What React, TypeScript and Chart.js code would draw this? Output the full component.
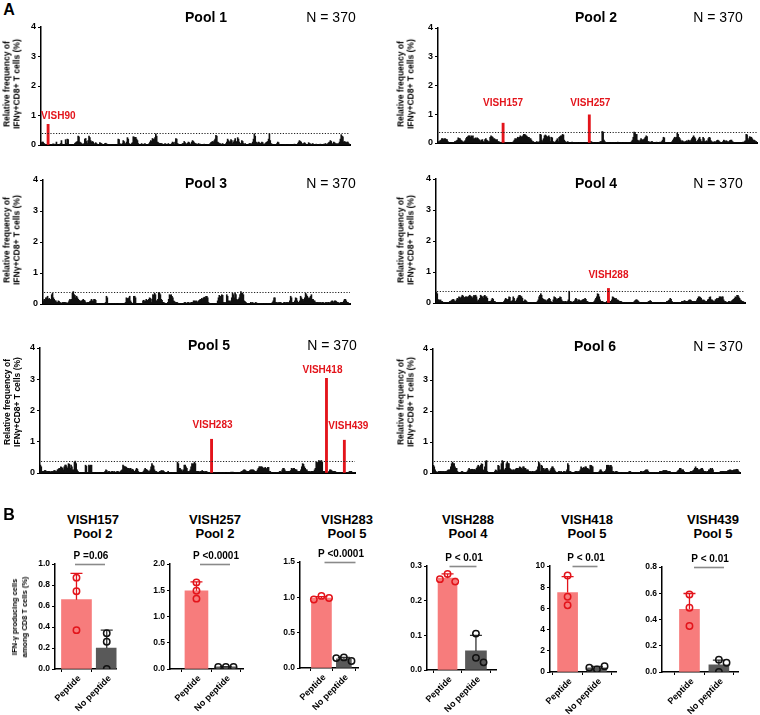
import React, { useEffect, useRef } from "react";
import { Chart, registerables } from "chart.js";

Chart.register(...registerables);

const FONT = "'Liberation Sans', Arial, Helvetica, sans-serif";
const RED = "#e3141b";
const PINK = "#f77c7c";
const DARK = "#595959";
const THRESHOLD = 0.4;

// ---- Panel A: per-peptide responses (370 peptides per pool) ----
const POOL1: number[] = [
  0.08,0.1,0.1,0.06,0.03,0.02,0,0,0.7,0.02,
  0,0,0,0.02,0.04,0,0.03,0,0.1,0.02,
  0,0,0.02,0.05,0.15,0.03,0,0,0.02,0.18,
  0.05,0.2,0.18,0.02,0,0.02,0,0,0,0.02,
  0.05,0.08,0.1,0.12,0.3,0.28,0.1,0.08,0.05,0.03,
  0.02,0.05,0.2,0.22,0.12,0.05,0.15,0.3,0.25,0.15,
  0.1,0.12,0.1,0.05,0.03,0.08,0.05,0.02,0,0.02,
  0.08,0.06,0.05,0.02,0,0,0.05,0.06,0.04,0,
  0,0,0.02,0,0,0,0,0.02,0,0,
  0,0.02,0.2,0.18,0.05,0,0.02,0.05,0.15,0.12,
  0.02,0.05,0.1,0.25,0.2,0.05,0,0.02,0.05,0.08,
  0.28,0.27,0.25,0.26,0.2,0.15,0.05,0.02,0,0,
  0.05,0.02,0,0.03,0.05,0.02,0,0,0.02,0.05,
  0.1,0.15,0.12,0.22,0.2,0.18,0.25,0.38,0.3,0.1,
  0.08,0.05,0.06,0.05,0.05,0.03,0.02,0.02,0.05,0.03,
  0,0.02,0.05,0.02,0,0.02,0.05,0.1,0.08,0.02,
  0.1,0.22,0.2,0.05,0.03,0.02,0,0,0.02,0.05,
  0.05,0.12,0.08,0.04,0.03,0.06,0.1,0.08,0.04,0.02,
  0.1,0.15,0.12,0.08,0.05,0.05,0.02,0.02,0.05,0.03,
  0.03,0.02,0,0,0.02,0.03,0,0,0,0.02,
  0,0.02,0.05,0.08,0.1,0.12,0.1,0.15,0.2,0.33,
  0.3,0.1,0.08,0.05,0.05,0.02,0.03,0.05,0.02,0,
  0.02,0.05,0.1,0.2,0.15,0.1,0.12,0.18,0.15,0.05,
  0.1,0.15,0.22,0.1,0.12,0.25,0.2,0.1,0.05,0.05,
  0.15,0.12,0.05,0.02,0.05,0.02,0,0,0.02,0.05,
  0.05,0.02,0.05,0.1,0.2,0.38,0.3,0.1,0.08,0.05,
  0.1,0.08,0.05,0.06,0.1,0.08,0.03,0.02,0.05,0.08,
  0.1,0.12,0.2,0.38,0.15,0.05,0.03,0.02,0,0.02,
  0,0.02,0.05,0.1,0.08,0.02,0,0,0,0,
  0,0,0.02,0,0,0,0,0.02,0,0,
  0,0,0.02,0.03,0,0,0.02,0.05,0.1,0.15,
  0.12,0.1,0.05,0.03,0.05,0.08,0.05,0.02,0,0.02,
  0.08,0.05,0.04,0.02,0.03,0.05,0.02,0,0.02,0.03,
  0.02,0,0,0.02,0.03,0.02,0,0.02,0.03,0.02,
  0.05,0.03,0.02,0.05,0.08,0.1,0.15,0.12,0.05,0.03,
  0.1,0.08,0.05,0.03,0.05,0.02,0.05,0.1,0.2,0.35,
  0.3,0.28,0.1,0.12,0.1,0.08,0.1,0.1,0.05,0.02,
];

const POOL2: number[] = [
  0.05,0.05,0.08,0.1,0.15,0.15,0.12,0.15,0.15,0.12,
  0.12,0.05,0.02,0,0,0,0.02,0,0.02,0.05,
  0.05,0.08,0.1,0.18,0.15,0.15,0.1,0.08,0.05,0.02,
  0.05,0.08,0.15,0.2,0.22,0.25,0.25,0.2,0.25,0.22,
  0.25,0.15,0.15,0.18,0.15,0.18,0.15,0.12,0.1,0.05,
  0.1,0.12,0.05,0.03,0.12,0.15,0.1,0.08,0.05,0.05,
  0.2,0.25,0.22,0.2,0.15,0.15,0.12,0.1,0.12,0.05,
  0.05,0.03,0.02,0.02,0.03,0.69,0.03,0.02,0,0,
  0,0,0.02,0,0,0,0.02,0.05,0.1,0.15,
  0.12,0.15,0.2,0.18,0.2,0.25,0.22,0.2,0.25,0.3,
  0.3,0.28,0.25,0.22,0.2,0.2,0.15,0.15,0.1,0.05,
  0.05,0.02,0,0.02,0.05,0.03,0.02,0.05,0.3,0.28,
  0.1,0.05,0.15,0.25,0.28,0.25,0.22,0.2,0.25,0.2,
  0.05,0.2,0.18,0.05,0.03,0.02,0.05,0.1,0.15,0.05,
  0.2,0.22,0.25,0.25,0.3,0.28,0.1,0.05,0.03,0.02,
  0.05,0.02,0.02,0,0.02,0.03,0.02,0,0.02,0.02,
  0,0.02,0,0,0.02,0,0,0.02,0,0,
  0,0.02,0,0.02,0,0.98,0.05,0.05,0.03,0.02,
  0.02,0,0,0.02,0,0,0.02,0.03,0.05,0.05,
  0.4,0.38,0.1,0.05,0.02,0.02,0,0.02,0,0,
  0,0.02,0,0,0.02,0,0,0.02,0.03,0.02,
  0,0,0.02,0,0,0,0.02,0,0,0.02,
  0,0.02,0,0,0.05,0.1,0.2,0.38,0.35,0.3,
  0.3,0.1,0.08,0.05,0.1,0.15,0.12,0.1,0.12,0.15,
  0.2,0.25,0.22,0.05,0.05,0.03,0.02,0.05,0.05,0.02,
  0.02,0,0.02,0.03,0,0,0.02,0.03,0.02,0.05,
  0.1,0.2,0.18,0.02,0,0.02,0,0,0.02,0,
  0.02,0.05,0.1,0.15,0.2,0.18,0.2,0.35,0.3,0.2,
  0.15,0.1,0.05,0.08,0.05,0.02,0.05,0.05,0.08,0.05,
  0.1,0.08,0.05,0.1,0.15,0.2,0.25,0.2,0.15,0.05,
  0.05,0.1,0.15,0.2,0.12,0.05,0.05,0.2,0.15,0.05,
  0.05,0.08,0.05,0.15,0.2,0.18,0.08,0.05,0.03,0.02,
  0.05,0.03,0.05,0.08,0.1,0.08,0.05,0.02,0.02,0.02,
  0.05,0.1,0.08,0.05,0.08,0.05,0.03,0.05,0.08,0.1,
  0.1,0.05,0.03,0.02,0.02,0.02,0,0.02,0.02,0,
  0.02,0,0.02,0.03,0.02,0.05,0.08,0.3,0.28,0.15,
  0.1,0.22,0.2,0.2,0.15,0.1,0.1,0.08,0.05,0.05,
];

const POOL3: number[] = [
  0.1,0.15,0.12,0.2,0.2,0.25,0.15,0.18,0.12,0.15,
  0.3,0.35,0.2,0.15,0.1,0.1,0.05,0.05,0.1,0.08,
  0.05,0.02,0.03,0.05,0.05,0.05,0.03,0.05,0.03,0.02,
  0.05,0.1,0.15,0.12,0.15,0.35,0.4,0.3,0.28,0.2,
  0.25,0.2,0.15,0.12,0.1,0.08,0.1,0.12,0.15,0.12,
  0.1,0.05,0.03,0.05,0.05,0.05,0.08,0.1,0.15,0.1,
  0.1,0.15,0.15,0.12,0.02,0,0.02,0,0,0.02,
  0.02,0,0.02,0.02,0,0.05,0.25,0.2,0.02,0,
  0,0.02,0,0,0.02,0,0,0.02,0,0,
  0,0.02,0.02,0.02,0.02,0,0.02,0,0.02,0.05,
  0.2,0.18,0.15,0.2,0.25,0.1,0.05,0.02,0.02,0.25,
  0.25,0.2,0.02,0,0.02,0.02,0,0.02,0,0.02,
  0.1,0.12,0.08,0.1,0.15,0.12,0.1,0.15,0.2,0.18,
  0.05,0.15,0.3,0.28,0.35,0.3,0.1,0.1,0.15,0.37,
  0.35,0.3,0.15,0.12,0.05,0.05,0.03,0.02,0.02,0.02,
  0.05,0.15,0.3,0.28,0.3,0.25,0.2,0.1,0.08,0.05,
  0.05,0.05,0.03,0.02,0.02,0,0.02,0,0,0.02,
  0.05,0.05,0.03,0.02,0.05,0.05,0.03,0.02,0.05,0.05,
  0.05,0.1,0.1,0.08,0.1,0.08,0.05,0.1,0.12,0.15,
  0.15,0.18,0.15,0.2,0.22,0.2,0.25,0.25,0.2,0.05,
  0.02,0,0.02,0,0,0.02,0,0.02,0,0.02,
  0.1,0.2,0.28,0.25,0.1,0.3,0.28,0.05,0.05,0.02,
  0.05,0.3,0.25,0.1,0.1,0.05,0.1,0.2,0.35,0.3,
  0.2,0.35,0.3,0.15,0.12,0.15,0.2,0.3,0.4,0.35,
  0.35,0.3,0.1,0.08,0.05,0.02,0.02,0.02,0.02,0,
  0.05,0.03,0.05,0.03,0.02,0.03,0.05,0.03,0.02,0.02,
  0.02,0,0.02,0,0.02,0,0,0.02,0,0,
  0.02,0,0.02,0,0.02,0,0.05,0.1,0.2,0.2,
  0.05,0.05,0.03,0.05,0.02,0.05,0.05,0.03,0.02,0,
  0.05,0.05,0.03,0.05,0.05,0.03,0.05,0.1,0.25,0.2,
  0.05,0.05,0.05,0.1,0.2,0.18,0.1,0.05,0.05,0.1,
  0.25,0.2,0.15,0.1,0.15,0.2,0.35,0.3,0.25,0.2,
  0.15,0.2,0.25,0.3,0.15,0.15,0.1,0.1,0.05,0.05,
  0.05,0.05,0.03,0.05,0.05,0.03,0.05,0.05,0.03,0.02,
  0.05,0.05,0.03,0.05,0.05,0.03,0.05,0.08,0.1,0.08,
  0.05,0.1,0.1,0.08,0.05,0.05,0.03,0.02,0.05,0.05,
  0.05,0.05,0.1,0.15,0.15,0.1,0.05,0.05,0.02,0.02,
];

const POOL4: number[] = [
  0.35,0.3,0.1,0.1,0.08,0.1,0.05,0.05,0.02,0.02,
  0.02,0,0.02,0,0.02,0.02,0.05,0.05,0.08,0.1,
  0.12,0.1,0.05,0.05,0.1,0.15,0.12,0.2,0.18,0.15,
  0.2,0.25,0.22,0.15,0.18,0.2,0.2,0.18,0.2,0.22,
  0.25,0.22,0.2,0.15,0.2,0.25,0.22,0.25,0.2,0.05,
  0.1,0.08,0.15,0.25,0.22,0.2,0.15,0.22,0.25,0.2,
  0.2,0.15,0.05,0.03,0.05,0.05,0.1,0.15,0.12,0.05,
  0.05,0.02,0.02,0,0.02,0.02,0,0.02,0,0.02,
  0.02,0.05,0.1,0.15,0.12,0.1,0.12,0.2,0.18,0.05,
  0.05,0.08,0.2,0.15,0.05,0.05,0.1,0.15,0.2,0.25,
  0.25,0.22,0.2,0.15,0.05,0.05,0.1,0.08,0.05,0.02,
  0.02,0,0.02,0,0.02,0.02,0,0.02,0,0.02,
  0.02,0.05,0.1,0.2,0.25,0.3,0.25,0.15,0.12,0.1,
  0.1,0.08,0.05,0.1,0.12,0.15,0.12,0.05,0.02,0.02,
  0.1,0.2,0.18,0.15,0.1,0.12,0.15,0.15,0.2,0.18,
  0.1,0.05,0.05,0.03,0.05,0.05,0.02,0.05,0.1,0.38,
  0.05,0.05,0.02,0.02,0.05,0.05,0.1,0.15,0.12,0.05,
  0.1,0.1,0.08,0.05,0.08,0.1,0.12,0.1,0.15,0.12,
  0.05,0.05,0.02,0.02,0,0.02,0.02,0,0.02,0.05,
  0.1,0.15,0.2,0.3,0.28,0.2,0.1,0.05,0.05,0.05,
  0.02,0,0.02,0.02,0.05,0.05,0.47,0.05,0.05,0.05,
  0.1,0.2,0.18,0.15,0.12,0.15,0.1,0.1,0.08,0.05,
  0.05,0.05,0.03,0.02,0.02,0,0.02,0.02,0,0.02,
  0.02,0,0.02,0.02,0,0.02,0.02,0.05,0.08,0.1,
  0.1,0.08,0.05,0.02,0.02,0,0.02,0.02,0,0.02,
  0.02,0,0.02,0.02,0.05,0.05,0.08,0.05,0.02,0.02,
  0.02,0.02,0,0.02,0.02,0,0.02,0.02,0,0,
  0.02,0,0.02,0,0.02,0.02,0.05,0.05,0.08,0.1,
  0.15,0.12,0.05,0.02,0.02,0,0.02,0.02,0.02,0,
  0.02,0.02,0,0.02,0.05,0.05,0.05,0.08,0.06,0.05,
  0.05,0.05,0.08,0.1,0.1,0.08,0.05,0.05,0.05,0.05,
  0.05,0.05,0.1,0.15,0.2,0.2,0.18,0.15,0.1,0.08,
  0.1,0.08,0.05,0.05,0.05,0.1,0.12,0.18,0.2,0.1,
  0.1,0.08,0.05,0.05,0.1,0.12,0.15,0.1,0.15,0.2,
  0.2,0.18,0.2,0.2,0.1,0.05,0.05,0.03,0.02,0.02,
  0.05,0.05,0.03,0.05,0.08,0.1,0.12,0.15,0.2,0.18,
  0.25,0.25,0.2,0.15,0.1,0.08,0.05,0.05,0.03,0.02,
];

const POOL5: number[] = [
  0.25,0.2,0.05,0.05,0.05,0.08,0.08,0.05,0.05,0.05,
  0.05,0.05,0.03,0.05,0.05,0.05,0.08,0.08,0.05,0.05,
  0.1,0.12,0.15,0.12,0.2,0.18,0.15,0.1,0.2,0.25,
  0.25,0.2,0.15,0.3,0.28,0.15,0.25,0.2,0.1,0.1,
  0.35,0.38,0.3,0.1,0.05,0.02,0.02,0,0.02,0.02,
  0,0.02,0.02,0.25,0.22,0.02,0.02,0.25,0.22,0.25,
  0.25,0.02,0,0.02,0,0,0.02,0,0.02,0,
  0,0.02,0,0.02,0,0.02,0.05,0.1,0.08,0.02,
  0.05,0.05,0.03,0.02,0.05,0.05,0.03,0.05,0.02,0.02,
  0.05,0.05,0.03,0.02,0.05,0.08,0.1,0.25,0.22,0.2,
  0.2,0.18,0.15,0.15,0.15,0.12,0.15,0.1,0.12,0.1,
  0.05,0.05,0.1,0.15,0.12,0.05,0.02,0.02,0,0.02,
  0.02,0.05,0.1,0.15,0.12,0.1,0.08,0.05,0.05,0.1,
  0.2,0.3,0.25,0.22,0.1,0.05,0.05,0.03,0.02,0.02,
  0.05,0.05,0.08,0.06,0.08,0.05,0.02,0.02,0,0.02,
  0.05,0.02,0,0.02,0,0.02,0.02,0,0.02,0.02,
  0.02,0.35,0.3,0.15,0.15,0.1,0.1,0.05,0.1,0.25,
  0.25,0.2,0.15,0.05,0.05,0.05,0.1,0.2,0.3,0.28,
  0.3,0.35,0.3,0.05,0.05,0.05,0.05,0.03,0.05,0.05,
  0.08,0.05,0.05,0.03,0.05,0.05,0.03,0.02,0.02,0.02,
  0.02,1.08,0.02,0.02,0,0.02,0,0.02,0,0,
  0,0,0.02,0,0,0,0.02,0,0,0,
  0.02,0,0.02,0.02,0.03,0.02,0.03,0.02,0,0.02,
  0.02,0.02,0,0.02,0.02,0.02,0.05,0.05,0.08,0.1,
  0.1,0.08,0.05,0.05,0.05,0.05,0.08,0.1,0.1,0.1,
  0.1,0.08,0.05,0.05,0.05,0.1,0.15,0.2,0.2,0.2,
  0.2,0.18,0.15,0.15,0.18,0.15,0.12,0.18,0.18,0.05,
  0.05,0.02,0.02,0,0.02,0.02,0,0.02,0.02,0,
  0.02,0.05,0.05,0.03,0.1,0.15,0.15,0.1,0.05,0.05,
  0.05,0.05,0.03,0.05,0.08,0.15,0.12,0.15,0.15,0.12,
  0.1,0.1,0.05,0.05,0.05,0.05,0.1,0.2,0.3,0.28,
  0.2,0.15,0.1,0.1,0.05,0.05,0.05,0.03,0.05,0.05,
  0.05,0.05,0.1,0.15,0.35,0.3,0.35,0.4,0.38,0.38,
  0.4,0.35,0.05,0.05,0.05,0.02,3.03,0.02,0.02,0.05,
  0.1,0.1,0.08,0.05,0.05,0.05,0.05,0.03,0.02,0.02,
  0.02,0,0.02,0,0.02,0.02,0.02,1.05,0.02,0,
  0.02,0,0.02,0.05,0.05,0.05,0.03,0.02,0,0.02,
];

const POOL6: number[] = [
  0.25,0.2,0.1,0.05,0.02,0.02,0.05,0.05,0.05,0.05,
  0.05,0.05,0.05,0.05,0.03,0.05,0.05,0.08,0.1,0.1,
  0.1,0.2,0.3,0.35,0.3,0.3,0.2,0.15,0.15,0.05,
  0.02,0.02,0,0.02,0.05,0.05,0.02,0.02,0,0.02,
  0.02,0.05,0.1,0.15,0.12,0.1,0.12,0.12,0.1,0.12,
  0.1,0.1,0.15,0.2,0.25,0.2,0.2,0.25,0.3,0.28,
  0.1,0.05,0.2,0.38,0.4,0.05,0.02,0.02,0,0.02,
  0.02,0,0.02,0.02,0.05,0.1,0.08,0.05,0.25,0.22,
  0.1,0.1,0.3,0.4,0.38,0.1,0.1,0.15,0.3,0.35,
  0.3,0.3,0.15,0.12,0.1,0.08,0.1,0.1,0.08,0.12,
  0.15,0.15,0.1,0.15,0.2,0.18,0.15,0.12,0.2,0.2,
  0.15,0.15,0.1,0.1,0.1,0.05,0.05,0.05,0.03,0.05,
  0.05,0.03,0.05,0.05,0.08,0.1,0.2,0.35,0.3,0.05,
  0.25,0.22,0.15,0.15,0.1,0.12,0.15,0.15,0.1,0.05,
  0.05,0.1,0.15,0.2,0.2,0.15,0.1,0.05,0.02,0.02,
  0.02,0.05,0.05,0.03,0.05,0.02,0.02,0.05,0.05,0.02,
  0.05,0.1,0.3,0.25,0.05,0.05,0.03,0.02,0.02,0.02,
  0.02,0.05,0.05,0.05,0.03,0.05,0.05,0.1,0.2,0.15,
  0.15,0.18,0.15,0.2,0.2,0.15,0.15,0.12,0.1,0.25,
  0.25,0.22,0.2,0.02,0.02,0,0.02,0.02,0,0.02,
  0.05,0.1,0.1,0.05,0.02,0.02,0.05,0.05,0.1,0.25,
  0.25,0.25,0.2,0.25,0.25,0.2,0.05,0.05,0.03,0.02,
  0.05,0.05,0.03,0.02,0.02,0.02,0.02,0,0.02,0.02,
  0.02,0.02,0,0.02,0.02,0.02,0.05,0.05,0.03,0.02,
  0.02,0,0.02,0.02,0,0.02,0.02,0,0.02,0.02,
  0.05,0.05,0.03,0.05,0.05,0.08,0.1,0.1,0.1,0.05,
  0.02,0.02,0,0.02,0,0.02,0,0.02,0.02,0,
  0.02,0.02,0.02,0.05,0.05,0.05,0.05,0.08,0.08,0.08,
  0.08,0.08,0.05,0.05,0.05,0.05,0.02,0.02,0.02,0.02,
  0.02,0.02,0,0.02,0.05,0.08,0.1,0.15,0.15,0.1,
  0.1,0.1,0.05,0.02,0.02,0,0.02,0.02,0.02,0.02,
  0.05,0.05,0.05,0.08,0.1,0.15,0.2,0.15,0.15,0.1,
  0.1,0.1,0.12,0.15,0.15,0.1,0.05,0.05,0.05,0.03,
  0.05,0.05,0.1,0.1,0.15,0.12,0.15,0.1,0.02,0.02,
  0.02,0.02,0,0.02,0.02,0.02,0.05,0.05,0.05,0.05,
  0.05,0.05,0.05,0.05,0.05,0.08,0.08,0.1,0.1,0.08,
  0.08,0.08,0.1,0.1,0.1,0.12,0.12,0.1,0.05,0.02,
];

// Responding peptides (highlighted red), by position in the pool
const POOL1_HITS = [{ name: "VISH90", index: 8 }];
const POOL2_HITS = [{ name: "VISH157", index: 75 }, { name: "VISH257", index: 175 }];
const POOL3_HITS: { name: string; index: number }[] = [];
const POOL4_HITS = [{ name: "VISH288", index: 206 }];
const POOL5_HITS = [{ name: "VISH283", index: 201 }, { name: "VISH418", index: 336 }, { name: "VISH439", index: 357 }];
const POOL6_HITS: { name: string; index: number }[] = [];

const POOL_NAMES = ["Pool 1", "Pool 2", "Pool 3", "Pool 4", "Pool 5", "Pool 6"];
const POOL_N = "N = 370";

// where each red label sits: value on the y axis, alignment and nudge in px
const LABEL_PLACE: Record<string, { y: number; align: CanvasTextAlign; dx: number }> = {
  VISH90: { y: 0.99, align: "left", dx: -7 },
  VISH157: { y: 1.37, align: "center", dx: 0 },
  VISH257: { y: 1.37, align: "center", dx: 1 },
  VISH288: { y: 0.89, align: "center", dx: 0 },
  VISH283: { y: 1.53, align: "center", dx: 1 },
  VISH418: { y: 3.3, align: "center", dx: -4 },
  VISH439: { y: 1.5, align: "center", dx: 4 },
};

// ---- Panel B: validation of individual peptides ----
const B_PEPTIDES = ["VISH157", "VISH257", "VISH283", "VISH288", "VISH418", "VISH439"];
const B_POOLS = ["Pool 2", "Pool 2", "Pool 5", "Pool 4", "Pool 5", "Pool 5"];
const B_P_TEXT = ["P =0.06", "P <0.0001", "P <0.0001", "P < 0.01", "P < 0.01", "P < 0.01"];
const B_GROUPS = ["Peptide", "No peptide"];
const B_MEAN_PEPTIDE = [0.66, 1.49, 0.99, 0.265, 7.5, 0.478];
const B_SD_PEPTIDE = [0.25, 0.17, 0.02, 0.012, 1.5, 0.12];
const B_MEAN_NOPEP = [0.2, 0.04, 0.13, 0.055, 0.4, 0.054];
const B_SD_NOPEP = [0.17, 0.004, 0.02, 0.045, 0.12, 0.037];
const B_PTS_PEPTIDE = [
  [0.87, 0.74, 0.37],
  [1.65, 1.49, 1.34],
  [1.02, 0.99, 0.97],
  [0.277, 0.255, 0.262],
  [9.1, 7.1, 6.3],
  [0.59, 0.49, 0.35],
];
const B_PTS_NOPEP = [
  [0.34, 0.26, 0.0],
  [0.04, 0.04, 0.04],
  [0.15, 0.1, 0.14],
  [0.105, 0.035, 0.022],
  [0.25, 0.55, 0.4],
  [0.094, 0.07, 0.0],
];
const B_Y_MAX = [1.0, 2.0, 1.5, 0.3, 10, 0.8];
const B_Y_STEP = [0.2, 0.5, 0.5, 0.1, 2, 0.2];
const B_Y_DECIMALS = [1, 1, 1, 1, 0, 1];

// ---- layout (pixels on the page) ----
type PoolGeo = { axisX: number; right: number; yTop: number; yZero: number; titleX: number; nX: number; titleY: number; yTitleX: number; yTitleY: number };
const POOL_GEO: PoolGeo[] = [
  { axisX: 41, right: 350, yTop: 27, yZero: 145, titleX: 206, nX: 331, titleY: 17, yTitleX: 12, yTitleY: 84 },
  { axisX: 438, right: 757, yTop: 28, yZero: 143, titleX: 596, nX: 718, titleY: 17, yTitleX: 406, yTitleY: 84 },
  { axisX: 43, right: 350, yTop: 180, yZero: 304, titleX: 206, nX: 331, titleY: 183, yTitleX: 12, yTitleY: 240 },
  { axisX: 436, right: 745, yTop: 179, yZero: 303, titleX: 596, nX: 718, titleY: 183, yTitleX: 406, yTitleY: 240 },
  { axisX: 40, right: 355, yTop: 348, yZero: 473, titleX: 209, nX: 332, titleY: 345, yTitleX: 12, yTitleY: 402 },
  { axisX: 433, right: 740, yTop: 349, yZero: 473, titleX: 595, nX: 718, titleY: 346, yTitleX: 406, yTitleY: 402 },
];

// bw1/bw2: bar widths; pX/pLen: centre and length of the significance bar
type BGeo = { axisX: number; right: number; yTop: number; yZero: number; c1: number; c2: number; titleX: number; bw1: number; bw2: number; pX: number; pLen: number };
const B_GEO: BGeo[] = [
  { axisX: 55, right: 118, yTop: 564, yZero: 669, c1: 77, c2: 108, titleX: 93, bw1: 30, bw2: 21, pX: 90, pLen: 30 },
  { axisX: 170, right: 245, yTop: 564, yZero: 669, c1: 197, c2: 227, titleX: 215, bw1: 23, bw2: 22, pX: 215, pLen: 30 },
  { axisX: 300, right: 360, yTop: 562, yZero: 668, c1: 322, c2: 345, titleX: 347, bw1: 20, bw2: 15, pX: 340, pLen: 31 },
  { axisX: 427, right: 498, yTop: 566, yZero: 670, c1: 448, c2: 477, titleX: 468, bw1: 19, bw2: 21, pX: 463, pLen: 27 },
  { axisX: 550, right: 618, yTop: 566, yZero: 672, c1: 568, c2: 598, titleX: 587, bw1: 20, bw2: 19, pX: 585, pLen: 25 },
  { axisX: 662, right: 740, yTop: 567, yZero: 672, c1: 690, c2: 720, titleX: 713, bw1: 20, bw2: 20, pX: 709, pLen: 30 },
];

const POOLS = [POOL1, POOL2, POOL3, POOL4, POOL5, POOL6];
const HITS = [POOL1_HITS, POOL2_HITS, POOL3_HITS, POOL4_HITS, POOL5_HITS, POOL6_HITS];

const font = (size: number, weight: string = "bold") => ({ family: FONT, size, weight: weight as any });

function PoolChart({ values, hits, geo }: { values: number[]; hits: { name: string; index: number }[]; geo: PoolGeo }) {
  const ref = useRef<HTMLCanvasElement>(null);
  const yW = 26;
  const xH = 8;
  const padTop = 10;
  const padR = Math.min(22, 760 - geo.right);
  const left = geo.axisX - yW;
  const top = geo.yTop - padTop;
  const width = Math.round(geo.right - left + padR);
  const height = Math.round(geo.yZero - top + xH);

  useEffect(() => {
    const hitSet = new Set(hits.map((h) => h.index));
    const threshold = {
      id: "threshold",
      afterDatasetsDraw(chart: any) {
        const { ctx, chartArea, scales } = chart;
        const y = Math.round(scales.y.getPixelForValue(THRESHOLD)) + 0.5;
        ctx.save();
        ctx.strokeStyle = "#222";
        ctx.lineWidth = 1;
        ctx.setLineDash([1.2, 1.6]);
        ctx.beginPath();
        ctx.moveTo(chartArea.left + 1, y);
        ctx.lineTo(chartArea.right, y);
        ctx.stroke();
        ctx.restore();
      },
    };
    const hitLabels = {
      id: "hitLabels",
      afterDatasetsDraw(chart: any) {
        const { ctx, scales } = chart;
        ctx.save();
        ctx.fillStyle = RED;
        ctx.font = `bold 10px ${FONT}`;
        ctx.textBaseline = "middle";
        hits.forEach((h) => {
          const p = LABEL_PLACE[h.name];
          ctx.textAlign = p.align;
          ctx.fillText(h.name, scales.x.getPixelForValue(h.index) + p.dx, scales.y.getPixelForValue(p.y));
        });
        ctx.restore();
      },
    };
    const chart = new Chart(ref.current!, {
      type: "bar",
      data: {
        labels: values.map((_, i) => String(i + 1)),
        datasets: [
          {
            data: values.map((v, i) => (hitSet.has(i) ? null : v)),
            backgroundColor: "#111",
            barThickness: 1,
            grouped: false,
            order: 2,
          } as any,
          {
            data: values.map((v, i) => (hitSet.has(i) ? v : null)),
            backgroundColor: RED,
            barThickness: 2.2,
            grouped: false,
            order: 1,
          } as any,
        ],
      },
      options: {
        animation: false,
        responsive: false,
        maintainAspectRatio: false,
        events: [],
        layout: { padding: { top: padTop, right: padR, left: 0, bottom: 0 } },
        plugins: { legend: { display: false }, tooltip: { enabled: false } },
        scales: {
          x: {
            type: "category",
            offset: true,
            ticks: { display: false },
            grid: { display: false },
            border: { display: true, color: "#000", width: 2 },
            afterFit: (s: any) => { s.height = xH; },
          },
          y: {
            min: 0,
            max: 4,
            ticks: { stepSize: 1, color: "#000", font: font(9), padding: 2 },
            grid: { drawOnChartArea: false, drawTicks: true, tickLength: 3, color: "#000", lineWidth: 1 },
            border: { display: true, color: "#000", width: 1.5 },
            afterFit: (s: any) => { s.width = yW; },
          },
        },
      },
      plugins: [threshold, hitLabels],
    });
    return () => chart.destroy();
  }, []);

  return (
    <canvas
      ref={ref}
      width={width}
      height={height}
      style={{ position: "absolute", left, top, width, height }}
    />
  );
}

// spread overlapping dots sideways, like a beeswarm
function swarmOffsets(vals: number[], pxPerUnit: number, step: number): number[] {
  const placed: { x: number; y: number }[] = [];
  return vals.map((v) => {
    const y = v * pxPerUnit;
    for (let k = 0; k < 12; k++) {
      const cand = k === 0 ? 0 : (k % 2 ? 1 : -1) * Math.ceil(k / 2) * step;
      if (placed.every((p) => Math.hypot(p.x - cand, p.y - y) >= step)) {
        placed.push({ x: cand, y });
        return cand;
      }
    }
    placed.push({ x: 0, y });
    return 0;
  });
}

function ValidationChart({ k }: { k: number }) {
  const ref = useRef<HTMLCanvasElement>(null);
  const g = B_GEO[k];
  const yW = 30;
  const padTop = 20;
  const padR = 4;
  const xH = 50;
  const left = g.axisX - yW;
  const top = g.yTop - padTop;
  const width = Math.round(g.right - left + padR);
  const height = Math.round(g.yZero - top + xH);

  useEffect(() => {
    const spacing = g.c2 - g.c1;
    const xMin = 1 - (g.c1 - g.axisX) / spacing;
    const xMax = 2 + (g.right - g.c2) / spacing;
    const pxPerY = (g.yZero - g.yTop) / B_Y_MAX[k];
    const r = 3.2;
    const step = 2 * r + 1.4;
    const means = [B_MEAN_PEPTIDE[k], B_MEAN_NOPEP[k]];
    const sds = [B_SD_PEPTIDE[k], B_SD_NOPEP[k]];
    const pts = [B_PTS_PEPTIDE[k], B_PTS_NOPEP[k]];
    const dots = pts.map((arr, gi) => {
      const off = swarmOffsets(arr, pxPerY, step);
      return arr.map((v, i) => ({ x: gi + 1 + off[i] / spacing, y: v }));
    });

    const errorBars = {
      id: "errorBars",
      afterDatasetDraw(chart: any, args: any) {
        if (args.index !== 0) return;
        const { ctx, scales } = chart;
        ctx.save();
        ctx.lineWidth = 1.3;
        means.forEach((m, i) => {
          const x = scales.x.getPixelForValue(i + 1);
          const y0 = scales.y.getPixelForValue(m);
          const y1 = scales.y.getPixelForValue(m + sds[i]);
          ctx.strokeStyle = i === 0 ? RED : "#333";
          ctx.beginPath();
          ctx.moveTo(x, y0);
          ctx.lineTo(x, y1);
          ctx.moveTo(x - 6, y1);
          ctx.lineTo(x + 6, y1);
          ctx.stroke();
        });
        ctx.restore();
      },
    };
    const annotations = {
      id: "annotations",
      afterDraw(chart: any) {
        const { ctx, scales, chartArea } = chart;
        const cx = g.pX - left;
        const y = chartArea.top + 0.5;
        ctx.save();
        // significance bar and P value
        ctx.strokeStyle = "#8a8a8a";
        ctx.lineWidth = 1.6;
        ctx.beginPath();
        ctx.moveTo(cx - g.pLen / 2, y);
        ctx.lineTo(cx + g.pLen / 2, y);
        ctx.stroke();
        ctx.fillStyle = "#000";
        ctx.font = `bold 10px ${FONT}`;
        ctx.textAlign = "center";
        ctx.textBaseline = "middle";
        ctx.fillText(B_P_TEXT[k], cx + 1, chartArea.top - 8);
        // group names, slanted
        ctx.font = `bold 9px ${FONT}`;
        ctx.textAlign = "right";
        B_GROUPS.forEach((name, i) => {
          const x = scales.x.getPixelForValue(i + 1);
          ctx.save();
          ctx.translate(x + 3, chartArea.bottom + 8);
          ctx.rotate(-Math.PI / 4);
          ctx.fillText(name, 0, 0);
          ctx.restore();
        });
        ctx.restore();
      },
    };

    const chart = new Chart(ref.current!, {
      type: "bar",
      data: {
        datasets: [
          {
            type: "bar",
            data: [{ x: 1, y: means[0] }],
            backgroundColor: PINK,
            barThickness: g.bw1,
            grouped: false,
            order: 2,
          } as any,
          {
            type: "bar",
            data: [{ x: 2, y: means[1] }],
            backgroundColor: DARK,
            barThickness: g.bw2,
            grouped: false,
            order: 2,
          } as any,
          {
            type: "scatter",
            data: dots[0],
            pointRadius: r,
            pointBorderWidth: 1.5,
            pointBorderColor: RED,
            pointBackgroundColor: "rgba(0,0,0,0)",
            order: 1,
          } as any,
          {
            type: "scatter",
            data: dots[1],
            pointRadius: r,
            pointBorderWidth: 1.5,
            pointBorderColor: "#111",
            pointBackgroundColor: "rgba(0,0,0,0)",
            order: 1,
          } as any,
        ],
      },
      options: {
        animation: false,
        responsive: false,
        maintainAspectRatio: false,
        events: [],
        layout: { padding: { top: padTop, right: padR, left: 0, bottom: 0 } },
        plugins: { legend: { display: false }, tooltip: { enabled: false } },
        scales: {
          x: {
            type: "linear",
            offset: false,
            min: xMin,
            max: xMax,
            afterBuildTicks: (s: any) => { s.ticks = [{ value: 1 }, { value: 2 }]; },
            ticks: { display: false },
            grid: { display: true, drawOnChartArea: false, drawTicks: true, tickLength: 3, color: "#000", lineWidth: 1 },
            border: { display: true, color: "#000", width: 1.5 },
            afterFit: (s: any) => { s.height = xH; },
          },
          y: {
            min: 0,
            max: B_Y_MAX[k],
            ticks: {
              stepSize: B_Y_STEP[k],
              color: "#000",
              font: font(8.5),
              padding: 2,
              callback: (v: any) => Number(v).toFixed(B_Y_DECIMALS[k]),
            },
            grid: { drawOnChartArea: false, drawTicks: true, tickLength: 3, color: "#000", lineWidth: 1 },
            border: { display: true, color: "#000", width: 1.5 },
            afterFit: (s: any) => { s.width = yW; },
          },
        },
      },
      plugins: [errorBars, annotations],
    });
    return () => chart.destroy();
  }, []);

  return (
    <canvas
      ref={ref}
      width={width}
      height={height}
      style={{ position: "absolute", left, top, width, height }}
    />
  );
}

function Label({ x, y, children, size, weight = "bold", rotate = false, lineHeight }: any) {
  return (
    <div
      style={{
        position: "absolute",
        left: x,
        top: y,
        transform: `translate(-50%, -50%)${rotate ? " rotate(-90deg)" : ""}`,
        fontFamily: FONT,
        fontSize: size,
        fontWeight: weight,
        lineHeight: lineHeight ? `${lineHeight}px` : "normal",
        whiteSpace: "nowrap",
        textAlign: "center",
        color: "#000",
      }}
    >
      {children}
    </div>
  );
}

export default function App() {
  return (
    <div style={{ position: "absolute", left: 0, top: 0, width: 760, height: 715, background: "#fff", overflow: "hidden" }}>
      <Label x={9} y={10} size={16}>A</Label>
      {POOLS.map((vals, i) => {
        const g = POOL_GEO[i];
        return (
          <React.Fragment key={i}>
            <PoolChart values={vals} hits={HITS[i]} geo={g} />
            <Label x={g.titleX} y={g.titleY} size={14}>{POOL_NAMES[i]}</Label>
            <Label x={g.nX} y={g.titleY} size={14} weight="normal">{POOL_N}</Label>
            <Label x={g.yTitleX} y={g.yTitleY} size={8.5} rotate lineHeight={9.5}>
              Relative frequency of
              <br />
              IFNγ+CD8+ T cells (%)
            </Label>
          </React.Fragment>
        );
      })}
      <Label x={9} y={515} size={16}>B</Label>
      {B_PEPTIDES.map((name, k) => (
        <React.Fragment key={name}>
          <ValidationChart k={k} />
          <Label x={B_GEO[k].titleX} y={526} size={13} lineHeight={13.5}>
            {name}
            <br />
            {B_POOLS[k]}
          </Label>
        </React.Fragment>
      ))}
      <Label x={20} y={617} size={7.5} rotate lineHeight={10}>
        IFN-γ producing cells
        <br />
        among CD8 T cells (%)
      </Label>
    </div>
  );
}
